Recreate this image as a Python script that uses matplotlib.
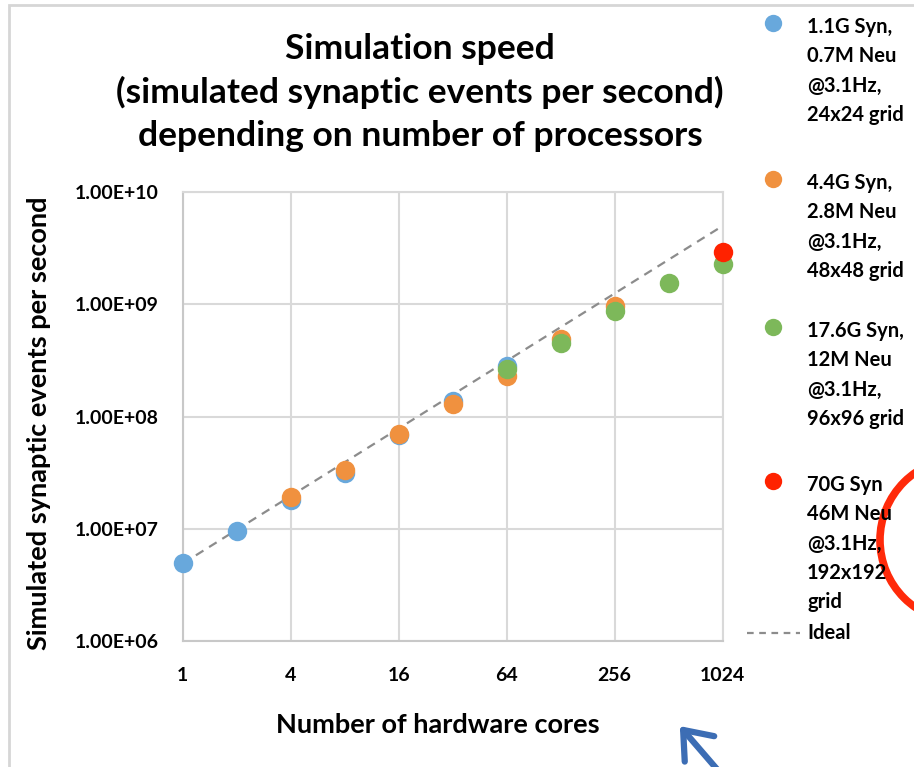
import matplotlib
matplotlib.use("Agg")
import matplotlib.pyplot as plt
from matplotlib.lines import Line2D
from matplotlib.patches import Ellipse, Rectangle, FancyArrowPatch
from matplotlib.ticker import FixedLocator, NullLocator

plt.rcParams['font.family'] = ['Lato', 'DejaVu Sans']
plt.rcParams['font.weight'] = 'bold'

# Measured simulation speed (synaptic events per second) vs. hardware cores
cores_1g = [1, 2, 4, 8, 16, 32, 64]
speed_1g = [5.0e6, 9.6e6, 1.8e7, 3.15e7, 6.8e7, 1.37e8, 2.8e8]

cores_4g = [4, 8, 16, 32, 64, 128, 256]
speed_4g = [1.93e7, 3.33e7, 7.0e7, 1.29e8, 2.3e8, 4.9e8, 9.6e8]

cores_17g = [64, 128, 256, 512, 1024]
speed_17g = [2.64e8, 4.55e8, 8.7e8, 1.54e9, 2.3e9]

cores_70g = [1024]
speed_70g = [2.95e9]

ideal_cores = [1, 1024]
ideal_speed = [4.9e6, 5.0e9]

x_ticks = [1, 4, 16, 64, 256, 1024]
y_ticks = [1e6, 1e7, 1e8, 1e9, 1e10]
y_tick_labels = ["1.00E+06", "1.00E+07", "1.00E+08", "1.00E+09", "1.00E+10"]

series_labels = [
    ["1.1G Syn,", "0.7M Neu", "@3.1Hz,", "24x24 grid"],
    ["4.4G Syn,", "2.8M Neu", "@3.1Hz,", "48x48 grid"],
    ["17.6G Syn,", "12M Neu", "@3.1Hz,", "96x96 grid"],
    ["70G Syn", "46M Neu", "@3.1Hz,", "192x192", "grid"],
]
ideal_label = "Ideal"

colors = ['#68a8dc', '#f0913f', '#7db85a', '#ff2200']
ideal_color = '#8c8c8c'
grid_color = '#d9d9d9'

W, H = 914, 767
ax_left, ax_right, ax_top, ax_bottom = 182.7, 722.5, 192.2, 641.0
fig = plt.figure(figsize=(W / 100, H / 100), dpi=100)
ax = fig.add_axes([ax_left / W, 1 - ax_bottom / H, (ax_right - ax_left) / W,
                   (ax_bottom - ax_top) / H])

ax.set_xscale('log', base=2)
ax.set_yscale('log')
ax.set_xlim(1, 1024)
ax.set_ylim(1e6, 1e10)

ax.xaxis.set_major_locator(FixedLocator(x_ticks))
ax.xaxis.set_minor_locator(NullLocator())
ax.set_xticks(x_ticks)
ax.set_xticklabels([str(v) for v in x_ticks])
ax.set_yticks(y_ticks)
ax.set_yticklabels(y_tick_labels)
ax.yaxis.set_minor_locator(NullLocator())

ax.tick_params(axis='both', length=0, labelsize=14, colors='black')
ax.tick_params(axis='y', pad=17)
ax.tick_params(axis='x', pad=19)
for lab in ax.get_xticklabels() + ax.get_yticklabels():
    lab.set_fontweight('bold')

ax.grid(True, color=grid_color, lw=1.5)
ax.set_axisbelow(True)
for side, sp in ax.spines.items():
    sp.set_color(grid_color)
    sp.set_linewidth(1.5)
ax.spines['left'].set_color('#c8c8c8')
ax.spines['bottom'].set_color('#c8c8c8')

ax.plot(ideal_cores, ideal_speed, ls=(0, (4, 3)), color=ideal_color, lw=1.6, zorder=2)

ms = 14
for cx, sy, c in [(cores_1g, speed_1g, colors[0]),
                  (cores_4g, speed_4g, colors[1]),
                  (cores_17g, speed_17g, colors[2]),
                  (cores_70g, speed_70g, colors[3])]:
    ax.plot(cx, sy, 'o', color=c, ms=ms, mec='none', clip_on=False, zorder=3)

ax.set_xlabel("Number of hardware cores", fontsize=19.5, fontweight='bold')
ax.xaxis.set_label_coords((438 - ax_left) / (ax_right - ax_left),
                          -(725 - ax_bottom) / (ax_bottom - ax_top))
ax.xaxis.label.set_va('center')
ax.set_ylabel("Simulated synaptic events per second", fontsize=19.5, fontweight='bold')
ax.yaxis.set_label_coords(-(ax_left - 39) / (ax_right - ax_left),
                          (ax_bottom - 423) / (ax_bottom - ax_top))
ax.yaxis.label.set_va('center')

fig.text(420 / W, 1 - 92.5 / H,
         "Simulation speed\n(simulated synaptic events per second)\ndepending on number of processors",
         ha='center', va='center', fontsize=25.5, fontweight='bold', linespacing=1.42)

# Legend keys on the right
line_gap = 29.3
first_lines = [27, 183, 331, 485]
for labels, y0, c in zip(series_labels, first_lines, colors):
    fig.add_artist(Line2D([773 / W], [1 - (y0 - 4) / H], marker='o', ms=12.5,
                          color=c, mec='none', transform=fig.transFigure))
    for i, t in enumerate(labels):
        fig.text(807 / W, 1 - (y0 + i * line_gap) / H, t, ha='left', va='center',
                 fontsize=14.5, fontweight='bold')
fig.add_artist(Line2D([747 / W, 800 / W], [1 - 633 / H] * 2, ls=(0, (3, 2.5)),
                      color=ideal_color, lw=1.6, transform=fig.transFigure))
fig.text(807 / W, 1 - 633 / H, ideal_label, ha='left', va='center',
         fontsize=14.5, fontweight='bold')

# Chart frame
fig.add_artist(Rectangle((9 / W, -0.1), 1.2, 1 - 5 / H + 0.1, fill=False,
                         edgecolor='#d6d6d6', lw=2, transform=fig.transFigure))

# Highlight circle and pointer arrow
fig.add_artist(Ellipse((962 / W, 1 - 540 / H), 164 / W, 164 / H, fill=False,
                       edgecolor='#ff2a0a', lw=5.5, transform=fig.transFigure))
fig.add_artist(FancyArrowPatch((722 / W, 1 - 775 / H), (678 / W, 1 - 724 / H),
                               arrowstyle='->,head_length=0.45,head_width=0.35',
                               mutation_scale=40, lw=4.5, color='#3c6db4',
                               capstyle='round', joinstyle='round',
                               transform=fig.transFigure))

fig.savefig("out.png", dpi=100)
